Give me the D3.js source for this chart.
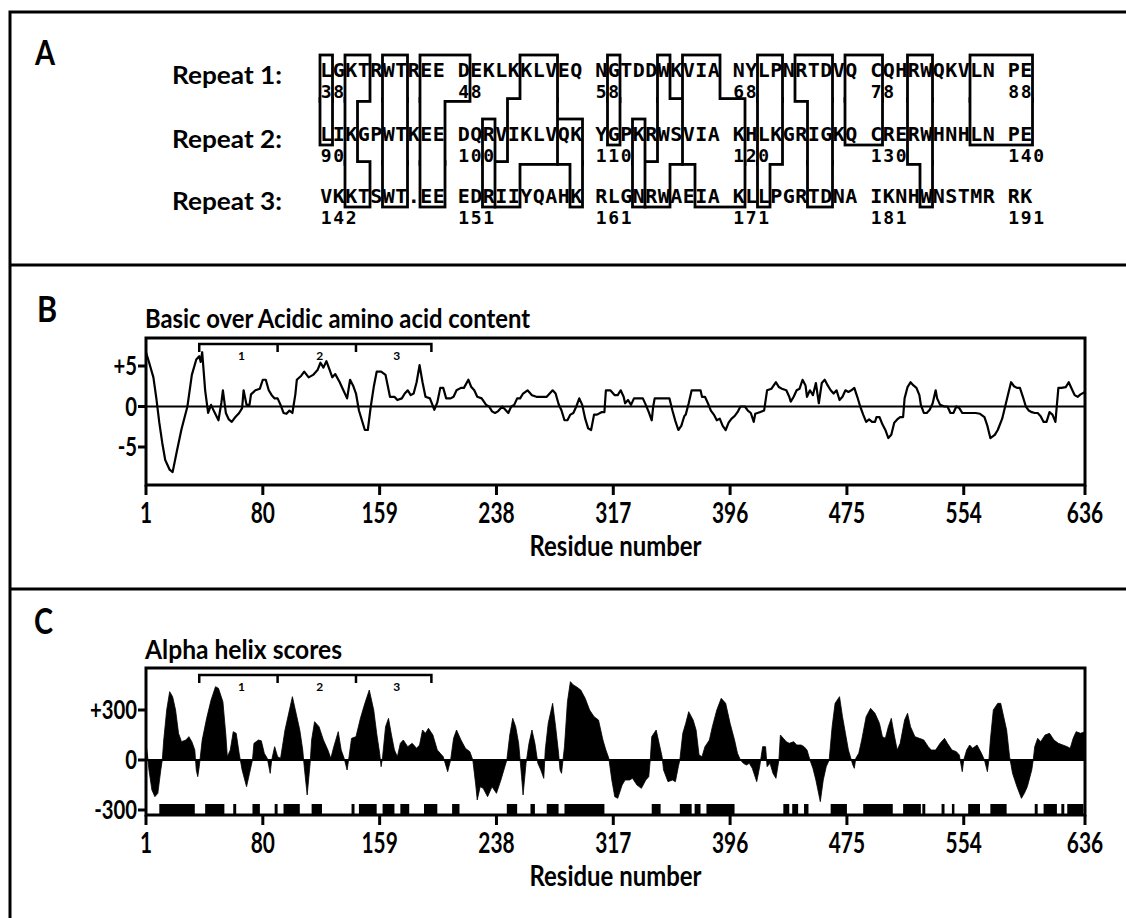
<!DOCTYPE html>
<html>
<head>
<meta charset="utf-8">
<script src="https://cdn.jsdelivr.net/npm/d3@7"></script>
<style>
body { margin: 0; background: #fff; }
svg { display: block; }
text { font-family: Lato, "Noto Sans", sans-serif; font-weight: bold; fill: #000; }
.seq { font-family: "DejaVu Sans Mono", monospace; font-weight: bold; font-size: 20px; }
</style>
</head>
<body>
<div id="fig"></div>
<script>
// ---- data ----
var repeatLabels = ["Repeat 1:", "Repeat 2:", "Repeat 3:"];
var repeatRows = [
  "LGKTRWTREE DEKLKKLVEQ NGTDDWKVIA NYLPNRTDVQ CQHRWQKVLN PE",
  "LIKGPWTKEE DQRVIKLVQK YGPKRWSVIA KHLKGRIGKQ CRERWHNHLN PE",
  "VKKTSWT.EE EDRIIYQAHK RLGNRWAEIA KLLPGRTDNA IKNHWNSTMR RK"
];
var repeatNumbers = [
  [38, 48, 58, 68, 78, 88],
  [90, 100, 110, 120, 130, 140],
  [142, 151, 161, 171, 181, 191]
];
var numberCols = [0, 11, 22, 33, 44, 55];
// boxed residues: each box is a list of [row, first column, last column]
var boxes = [
  [[0, 0, 0], [1, 0, 0]],
  [[0, 2, 3], [1, 2, 2], [2, 2, 3]],
  [[0, 5, 6], [1, 5, 6], [2, 5, 6]],
  [[0, 8, 11], [1, 8, 9], [2, 8, 9]],
  [[1, 13, 13], [2, 13, 13]],
  [[0, 16, 18], [1, 15, 18], [2, 14, 15]],
  [[1, 19, 20], [2, 20, 20]],
  [[0, 23, 23], [1, 23, 23]],
  [[1, 25, 25], [2, 25, 25]],
  [[0, 27, 27], [1, 27, 28], [2, 26, 27]],
  [[0, 29, 31], [1, 29, 33], [2, 30, 33]],
  [[0, 35, 36], [1, 35, 36], [2, 35, 35]],
  [[0, 38, 40], [1, 39, 40], [2, 39, 40]],
  [[0, 42, 44], [1, 42, 44]],
  [[0, 47, 48], [1, 47, 48], [2, 48, 48]],
  [[0, 52, 56], [1, 52, 56]]
];

var residueTicks = [1, 80, 159, 238, 317, 396, 475, 554, 636];
var repeatBracket = [37, 90, 143, 194];
var repeatBracketLabels = ["1", "2", "3"];

var chargeTicks = [5, 0, -5];
var chargeTickLabels = ["+5", "0", "-5"];
var helixTicks = [300, 0, -300];
var helixTickLabels = ["+300", "0", "-300"];

// basic minus acidic residues, sliding window: [residue, value]
var chargeProfile = [
  [1, 6.7], [3, 5.5], [6, 3.6], [8, 1], [10, -2], [12, -4.5], [14, -6.6], [17, -7.8], [19, -8.1],
  [22, -5.4], [25, -2.8], [29, 0], [32, 3.9], [35, 5.8], [37, 6.2], [38, 5.5], [39, 6.7], [41, 2],
  [43, -0.8], [45, 0.2], [47, -0.6], [50, -1.7], [52, 0.5], [53, 2], [55, -0.8], [57, -1.6], [59, -1.9],
  [61, -1.4], [64, -0.8], [66, -0.2], [67, 2], [69, 0.2], [71, 0.2], [72, 1.5], [75, 2], [78, 2.2],
  [80, 3.3], [82, 3.3], [84, 2], [86, 1.4], [88, 1], [90, 1], [92, 0.2], [94, -0.8], [96, -0.9],
  [98, -0.5], [100, -0.8], [102, 1.5], [103, 3.3], [106, 3.8], [108, 4.3], [111, 3.6], [114, 3.9],
  [117, 4.5], [119, 5.4], [121, 4.8], [123, 5.6], [125, 4.6], [127, 3.6], [129, 4], [132, 3], [134, 2.2],
  [137, 1], [139, 3.3], [141, 2.6], [143, 1.6], [145, -0.5], [147, -1.7], [149, -2.9], [151, -2.9],
  [153, 0], [155, 2.4], [157, 4.3], [160, 4.3], [163, 3.9], [166, 1.2], [169, 1.2], [171, 0.8], [174, 1],
  [176, 1.6], [178, 2], [180, 1.4], [182, 1.6], [184, 3], [186, 5.1], [188, 3], [190, 1.2], [193, 1],
  [196, -0.4], [198, 0.5], [200, 2.3], [202, 2.3], [204, 1], [207, 1], [209, 1.2], [211, 2], [214, 2.3],
  [216, 2.3], [219, 3.3], [221, 2.4], [223, 2], [225, 1.2], [228, 1], [231, 0.2], [233, 0], [235, -0.6],
  [237, -0.8], [239, -0.6], [242, 0], [244, -0.4], [246, -0.8], [248, 0], [250, 0.2], [252, 1], [254, 1],
  [256, 1.6], [259, 2], [262, 1.4], [265, 1.2], [269, 1.2], [272, 1.2], [274, 1.6], [276, 2], [278, 1.6],
  [280, 0.3], [282, -0.5], [284, -1.7], [286, -1.7], [288, -1], [290, -0.8], [292, 0], [294, 1],
  [296, 0.2], [298, -1.5], [300, -2.7], [302, -2.9], [304, -1], [306, -1], [309, -0.7], [311, -0.7],
  [312, 2], [315, 2], [318, 1.4], [320, 1.4], [322, 2], [324, 1.2], [325, 0.4], [327, 0.8], [329, 0.2],
  [331, 1], [334, 1], [337, 1], [339, 0.2], [341, -0.7], [343, -1.7], [344, 0], [345, 1], [348, 1],
  [352, 1], [355, 1], [357, -0.5], [359, -1.8], [361, -2.9], [363, -2.4], [365, -1.2], [366, -1],
  [368, 0.4], [370, 2], [373, 2], [376, 2], [377, 1.2], [379, 1.2], [381, 0.4], [383, -0.5], [385, -1],
  [387, -1.7], [389, -1.5], [391, -2.4], [393, -2.9], [395, -2], [397, -1.5], [399, -1.2], [401, -0.7],
  [403, 0], [406, 0], [408, -0.5], [410, -0.8], [412, -1.9], [413, -0.9], [416, -0.7], [419, -0.5],
  [421, 2], [424, 2.2], [427, 3], [429, 2.4], [431, 2.2], [434, 2], [436, 1.2], [437, 0.6], [439, 1.2],
  [441, 2], [443, 2.2], [445, 3.3], [447, 2.6], [448, 1.2], [450, 2], [452, 1.4], [454, 2.9], [456, 0.4],
  [458, 2.9], [460, 3.3], [462, 2.6], [464, 2], [466, 1.6], [468, 2], [470, 0.8], [472, 1.2], [474, 2],
  [476, 1.8], [478, 2], [480, 2.3], [482, 1.2], [484, 0], [486, -1], [488, -1.9], [490, -1.6], [492, -1.9],
  [494, -1.9], [495, -1.3], [497, -1.3], [499, -2.2], [501, -2.9], [503, -3.9], [505, -3.5], [507, -2],
  [509, -1.6], [511, -1.3], [513, -1.3], [514, 1], [516, 2.4], [518, 3], [520, 2.6], [522, 2.3],
  [524, 1.4], [525, 0.2], [527, -0.8], [529, -0.8], [531, -0.4], [533, 0.4], [535, 2], [536, 1],
  [538, 0.2], [541, 0], [543, 0], [545, -0.8], [547, -0.8], [549, 0], [551, -0.2], [553, -0.8],
  [556, -0.8], [559, -0.8], [562, -0.8], [565, -0.9], [568, -1.3], [570, -2.4], [572, -3.9], [575, -3.5],
  [577, -2.9], [580, -1.5], [582, 0], [584, 1.5], [586, 3], [588, 2.5], [590, 2.3], [592, 2.3],
  [594, 1.2], [596, 0], [598, -0.5], [600, -0.7], [602, -0.8], [604, -0.8], [606, -1.2], [608, -1.9],
  [610, -1.9], [612, -0.7], [614, -1], [616, -1.9], [618, 2.3], [620, 2.3], [623, 2.4], [625, 3],
  [627, 2.2], [629, 1.4], [631, 1.2], [633, 1.5], [636, 1.8]
];

// alpha helix score: [residue, score]
var helixProfile = [
  [1, 100], [2, 30], [3, -60], [5, -180], [7, -220], [9, -200], [11, -60], [12, 0], [13, 120], [15, 300],
  [17, 410], [19, 380], [21, 300], [23, 160], [25, 110], [28, 120], [30, 140], [32, 110], [34, 60],
  [35, -60], [36, -100], [37, -40], [39, 120], [42, 250], [45, 360], [48, 440], [50, 430], [53, 350],
  [55, 150], [56, 20], [58, 60], [60, 170], [62, 160], [64, 40], [66, -60], [69, -160], [71, -80],
  [73, 0], [74, 100], [77, 120], [79, 115], [81, 40], [83, 10], [85, -80], [86, 0], [88, 80], [90, 20],
  [92, 10], [95, 180], [98, 300], [100, 380], [102, 300], [105, 180], [107, 60], [108, -40], [110, -210],
  [112, -20], [113, 120], [115, 230], [118, 200], [121, 120], [124, 60], [126, 10], [128, 80], [131, 170],
  [133, 60], [135, 10], [137, -60], [138, 0], [140, 130], [143, 140], [146, 250], [149, 340], [152, 420],
  [155, 300], [157, 160], [159, 40], [160, -40], [161, 20], [163, 200], [165, 250], [167, 150], [169, 60],
  [171, 20], [173, 100], [175, 120], [178, 80], [181, 100], [184, 70], [186, 90], [188, 180], [190, 160],
  [192, 190], [195, 150], [198, 60], [200, 40], [202, 20], [204, -40], [205, -70], [207, 0], [209, 130],
  [211, 180], [214, 120], [217, 70], [220, 50], [222, 0], [224, -150], [225, -240], [227, -160],
  [229, -170], [232, -220], [235, -160], [238, -200], [241, -120], [243, -60], [245, 0], [247, 150],
  [249, 250], [251, 200], [253, 100], [255, -100], [256, -210], [258, -20], [260, 100], [262, 180],
  [264, 100], [266, -20], [268, -60], [270, -110], [271, 60], [273, 220], [276, 340], [278, 200],
  [280, 40], [281, -60], [282, -80], [284, 80], [286, 350], [288, 470], [290, 450], [292, 440],
  [295, 420], [298, 370], [301, 300], [304, 260], [307, 240], [310, 120], [312, 60], [314, 10],
  [316, -120], [318, -220], [320, -230], [323, -150], [325, -120], [328, -120], [330, -110], [333, -150],
  [336, -170], [339, -120], [341, -100], [342, 0], [343, 140], [346, 180], [348, 100], [350, 20],
  [351, -60], [354, -130], [357, -120], [359, -130], [361, -40], [362, 0], [364, 160], [366, 220],
  [368, 290], [371, 240], [373, 180], [375, 30], [377, 20], [379, 80], [382, 120], [384, 200], [387, 300],
  [390, 370], [393, 340], [396, 220], [399, 120], [401, 40], [403, 0], [405, -20], [407, -30], [409, -20],
  [411, -50], [414, -130], [416, -40], [418, 80], [420, 80], [421, -40], [423, -20], [425, -80],
  [427, -110], [429, 0], [430, 150], [432, 130], [434, 110], [436, 100], [439, 110], [441, 90], [444, 90],
  [446, 80], [448, 60], [450, 0], [452, -50], [454, -120], [457, -250], [459, -120], [461, -40], [463, 0],
  [465, 200], [467, 340], [470, 380], [472, 260], [474, 160], [476, 60], [478, 0], [479, -30], [480, -50],
  [481, 10], [483, 40], [485, 120], [488, 260], [491, 310], [494, 280], [497, 220], [499, 140], [501, 130],
  [503, 200], [505, 250], [507, 150], [509, 60], [511, 100], [514, 240], [516, 280], [518, 200],
  [521, 140], [524, 130], [527, 120], [530, 80], [532, 60], [535, 60], [538, 100], [541, 130], [543, 100],
  [546, 60], [549, 50], [551, 30], [553, -70], [554, 0], [556, 60], [558, 90], [560, 70], [563, 90],
  [566, 40], [568, 0], [570, -70], [571, 0], [572, 120], [574, 300], [577, 340], [579, 340], [581, 260],
  [583, 180], [585, 20], [587, -80], [590, -160], [593, -230], [595, -200], [597, -160], [600, -60],
  [601, 0], [602, 80], [604, 130], [606, 110], [609, 150], [612, 160], [615, 120], [618, 100], [621, 90],
  [624, 80], [626, 70], [628, 130], [630, 170], [633, 160], [636, 170]
];

// predicted helical stretches drawn on the -300 line: [from, to]
var helixSegments = [
  [10, 34], [41, 54], [60, 62], [73, 78], [88, 90], [94, 105], [113, 120], [140, 142], [145, 157],
  [161, 169], [173, 179], [189, 198], [208, 213], [245, 252], [261, 264], [272, 280], [284, 311],
  [343, 349], [362, 370], [372, 376], [380, 399], [432, 436], [438, 442], [446, 449], [464, 475],
  [486, 506], [513, 525], [526, 528], [539, 541], [546, 547], [557, 565], [572, 583], [602, 604],
  [608, 617], [620, 622], [624, 635]
];

// ---- drawing ----
var width = 1126, height = 918;
var svg = d3.select("#fig").append("svg")
    .attr("width", width)
    .attr("height", height);

function label(g, x, y, s, size, opt) {
  opt = opt || {};
  var t = g.append("text")
      .attr("font-size", size)
      .attr("text-anchor", opt.anchor || "start")
      .text(s);
  if (opt.width) {
    t.attr("x", x).attr("y", y)
     .attr("textLength", opt.width)
     .attr("lengthAdjust", "spacingAndGlyphs");
  } else {
    t.attr("transform", "translate(" + x + "," + y + ") scale(" + (opt.sx || 1) + ",1)");
  }
  return t;
}

// outer frame + panel separators
svg.append("path")
    .attr("d", "M10," + height + "V12H" + width)
    .attr("fill", "none").attr("stroke", "#000").attr("stroke-width", 3);
svg.selectAll(".sep").data([265, 589]).enter().append("line")
    .attr("class", "sep")
    .attr("x1", 10).attr("x2", width)
    .attr("y1", function(d) { return d; }).attr("y2", function(d) { return d; })
    .attr("stroke", "#000").attr("stroke-width", 3);

label(svg, 35, 65, "A", 34, {sx: 0.85});
label(svg, 37, 322, "B", 36, {sx: 0.85});
label(svg, 34, 634, "C", 36, {sx: 0.8});

// ---- panel A: aligned repeats ----
var colX = d3.scaleLinear().domain([0, 57]).range([320, 1032.5]);
var rowBase = [77, 141, 203];
function midY(r) { return ((rowBase[r] + 4) + (rowBase[r + 1] - 22)) / 2; }

var pa = svg.append("g");
var boxBlack = pa.append("g"), boxWhite = pa.append("g");
var lw = 1.4;

boxes.forEach(function(grp) {
  grp.forEach(function(s, i) {
    var row = s[0], prev = grp[i - 1], next = grp[i + 1];
    var up = prev && prev[0] === row - 1;
    var down = next && next[0] === row + 1;
    var top = up ? midY(row - 1) : rowBase[row] - 22;
    var bot = down ? midY(row) : rowBase[row] + 4;
    var x0 = colX(s[1]), x1 = colX(s[2] + 1);
    var bt = up ? top - 2 * lw : top - lw, bb = down ? bot + 2 * lw : bot + lw;
    boxBlack.append("rect")
        .attr("x", x0 - lw).attr("y", bt)
        .attr("width", x1 - x0 + 2 * lw).attr("height", bb - bt)
        .attr("fill", "#000");
    var wt = up ? top : top + lw, wb = down ? bot : bot - lw;
    boxWhite.append("rect")
        .attr("x", x0 + lw).attr("y", wt)
        .attr("width", x1 - x0 - 2 * lw).attr("height", wb - wt)
        .attr("fill", "#fff");
  });
});

repeatRows.forEach(function(seq, r) {
  label(pa, 172, rowBase[r] + 7, repeatLabels[r], 25, {width: 110});

  pa.append("g").selectAll("text")
      .data(seq.split(""))
    .enter().append("text")
      .attr("class", "seq")
      .attr("x", function(d, i) { return colX(i + 0.5); })
      .attr("y", rowBase[r])
      .attr("text-anchor", "middle")
      .text(function(d) { return d === " " ? "" : d; });

  repeatNumbers[r].forEach(function(n, k) {
    pa.append("g").selectAll("text")
        .data(String(n).split(""))
      .enter().append("text")
        .attr("class", "seq")
        .style("font-size", "18px")
        .attr("x", function(d, j) { return colX(numberCols[k] + j + 0.5); })
        .attr("y", rowBase[r] + 21)
        .attr("text-anchor", "middle")
        .text(function(d) { return d; });
  });
});

// ---- shared residue axis ----
var x = d3.scaleLinear().domain([1, 636]).range([146, 1085]);

function residuePanel(top, bottom, yScale, ticks, tickLabels, title, titleW, titleY, bracketY) {
  var g = svg.append("g");

  label(g, 145, titleY, title, 27, {width: titleW});

  // y ticks
  ticks.forEach(function(v, i) {
    g.append("line")
        .attr("x1", x.range()[0] - 8).attr("x2", x.range()[0])
        .attr("y1", yScale(v)).attr("y2", yScale(v))
        .attr("stroke", "#000").attr("stroke-width", 3);
    label(g, x.range()[0] - 9, yScale(v) + 9, tickLabels[i], 26, {anchor: "end", sx: 0.78});
  });

  // x ticks
  residueTicks.forEach(function(r) {
    g.append("line")
        .attr("x1", x(r)).attr("x2", x(r))
        .attr("y1", bottom).attr("y2", bottom + 10)
        .attr("stroke", "#000").attr("stroke-width", 3);
    label(g, x(r), bottom + 38, String(r), 29, {anchor: "middle", sx: 0.72});
  });
  label(g, (x.range()[0] + x.range()[1]) / 2, bottom + 71, "Residue number", 28,
        {anchor: "middle", width: 172});

  // repeat bracket
  var bp = "M" + x(repeatBracket[0]) + "," + (bracketY + 8) + "V" + bracketY;
  repeatBracket.slice(1).forEach(function(r) {
    bp += "H" + x(r) + "V" + (bracketY + 8) + "M" + x(r) + "," + bracketY;
  });
  g.append("path").attr("d", bp).attr("fill", "none")
      .attr("stroke", "#000").attr("stroke-width", 2.5);
  repeatBracketLabels.forEach(function(s, i) {
    var m = (repeatBracket[i] + repeatBracket[i + 1]) / 2 + 2;
    g.append("text")
        .attr("x", x(m)).attr("y", bracketY + 16)
        .attr("text-anchor", "middle")
        .attr("font-size", 12)
        .text(s);
  });

  return g;
}

// ---- panel B ----
var yB = d3.scaleLinear().domain([-5, 5]).range([447, 366]);
var gB = residuePanel(338, 485, yB, chargeTicks, chargeTickLabels,
    "Basic over Acidic amino acid content", 385, 328, 344);

gB.append("line")
    .attr("x1", x.range()[0]).attr("x2", x.range()[1])
    .attr("y1", yB(0)).attr("y2", yB(0))
    .attr("stroke", "#000").attr("stroke-width", 2);

gB.append("path")
    .datum(chargeProfile)
    .attr("fill", "none").attr("stroke", "#000").attr("stroke-width", 2.2)
    .attr("stroke-linejoin", "round")
    .attr("d", d3.line()
        .x(function(d) { return x(d[0]); })
        .y(function(d) { return yB(d[1]); }));

gB.append("rect")
    .attr("x", x.range()[0]).attr("y", 338)
    .attr("width", x.range()[1] - x.range()[0]).attr("height", 485 - 338)
    .attr("fill", "none").attr("stroke", "#000").attr("stroke-width", 3);

// ---- panel C ----
var yC = d3.scaleLinear().domain([-300, 300]).range([810, 710]);
var gC = residuePanel(668, 815, yC, helixTicks, helixTickLabels,
    "Alpha helix scores", 197, 659, 675);

gC.append("path")
    .datum(helixProfile)
    .attr("fill", "#000").attr("stroke", "#000").attr("stroke-width", 0.8)
    .attr("d", d3.area()
        .x(function(d) { return x(d[0]); })
        .y0(yC(0))
        .y1(function(d) { return yC(d[1]); }));

gC.append("line")
    .attr("x1", x.range()[0]).attr("x2", x.range()[1])
    .attr("y1", yC(0)).attr("y2", yC(0))
    .attr("stroke", "#000").attr("stroke-width", 2);

gC.selectAll(".seg").data(helixSegments).enter().append("rect")
    .attr("class", "seg")
    .attr("x", function(d) { return x(d[0]); })
    .attr("y", yC(-300) - 6)
    .attr("width", function(d) { return Math.max(2.5, x(d[1]) - x(d[0])); })
    .attr("height", 815 - (yC(-300) - 6))
    .attr("fill", "#000");

gC.append("rect")
    .attr("x", x.range()[0]).attr("y", 668)
    .attr("width", x.range()[1] - x.range()[0]).attr("height", 815 - 668)
    .attr("fill", "none").attr("stroke", "#000").attr("stroke-width", 3);
</script>
</body>
</html>
